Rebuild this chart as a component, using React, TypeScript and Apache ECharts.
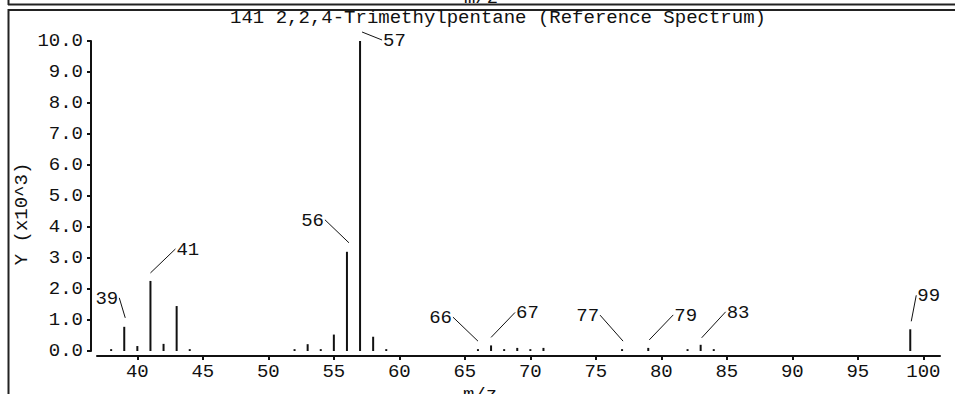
import React, { useEffect, useRef } from "react";
import * as echarts from "echarts";

const title = "141 2,2,4-Trimethylpentane (Reference Spectrum)";
const xName = "m/z";
const yName = "Y (x10^3)";

const mzValues = [38, 39, 40, 41, 42, 43, 44, 52, 53, 54, 55, 56, 57, 58, 59, 66, 67, 68, 69, 70, 71, 77, 79, 82, 83, 84, 99];
const intensities = [0.06, 0.78, 0.16, 2.26, 0.23, 1.45, 0.06, 0.06, 0.22, 0.06, 0.53, 3.2, 10.0, 0.46, 0.06, 0.06, 0.18, 0.06, 0.1, 0.06, 0.1, 0.06, 0.1, 0.06, 0.2, 0.06, 0.7];
const labeledPeaks = [39, 41, 56, 57, 66, 67, 77, 79, 83, 99];
const xTicks = [40, 45, 50, 55, 60, 65, 70, 75, 80, 85, 90, 95, 100];

const FONT = "Liberation Mono";
const FS = 19;
const INK = "#111";

// leader styling: start offset above peak, then displacement to label
const leaderStyle: Record<number, { sx: number; sy: number; dx: number; dy: number }> = {
  39: { sx: 1, sy: -9, dx: -6, dy: -20 },
  41: { sx: 0, sy: -8, dx: 25, dy: -24 },
  56: { sx: 2, sy: -9, dx: -24, dy: -23 },
  57: { sx: 2, sy: -9, dx: 20, dy: 8 },
  66: { sx: 0, sy: -8, dx: -25, dy: -24 },
  67: { sx: 0, sy: -8, dx: 24, dy: -25 },
  77: { sx: 1, sy: -8, dx: -23, dy: -26 },
  79: { sx: 1, sy: -8, dx: 24, dy: -25 },
  83: { sx: 1, sy: -7, dx: 24, dy: -26 },
  99: { sx: 1, sy: -8, dx: 5, dy: -26 },
};

export default function App() {
  const ref = useRef<HTMLDivElement>(null);
  useEffect(() => {
    if (!ref.current) return;
    const chart = echarts.init(ref.current, null, { renderer: "svg" });
    const barData = mzValues.map((m, i) => [m, intensities[i]]);
    const annData = labeledPeaks.map((m) => [m, intensities[mzValues.indexOf(m)]]);
    chart.setOption({
      animation: false,
      backgroundColor: "#fff",
      textStyle: { fontFamily: FONT },
      grid: { left: 97, right: 15, top: 41, bottom: 43, containLabel: false },
      xAxis: {
        type: "value",
        min: 36.92,
        max: 101.27,
        offset: 5,
        axisLine: { show: true, onZero: false, lineStyle: { color: INK, width: 2 } },
        axisTick: { show: true, length: 4, lineStyle: { color: INK, width: 2 }, customValues: xTicks },
        axisLabel: { color: INK, fontFamily: FONT, fontSize: FS, margin: 6, customValues: xTicks },
        splitLine: { show: false },
      },
      yAxis: {
        type: "value",
        min: 0,
        max: 10,
        interval: 1,
        offset: 6,
        axisLine: { show: true, onZero: false, lineStyle: { color: INK, width: 2 } },
        axisTick: { show: true, length: 4, lineStyle: { color: INK, width: 2 } },
        axisLabel: {
          color: INK,
          fontFamily: FONT,
          fontSize: FS,
          margin: 8,
          formatter: (v: number) => v.toFixed(1),
        },
        splitLine: { show: false },
      },
      series: [
        {
          type: "bar",
          data: barData,
          barWidth: 2,
          itemStyle: { color: INK },
          silent: true,
        },
        {
          type: "custom",
          data: annData,
          clip: false,
          silent: true,
          renderItem: (params: any, api: any) => {
            const mz = api.value(0);
            const v = api.value(1);
            const [px, py] = api.coord([mz, v]);
            const s = leaderStyle[mz];
            const x1 = px + s.sx;
            const y1 = py + s.sy;
            const x2 = x1 + s.dx;
            const y2 = y1 + s.dy;
            const right = s.dx >= 0;
            return {
              type: "group",
              children: [
                {
                  type: "line",
                  shape: { x1, y1, x2, y2 },
                  style: { stroke: INK, lineWidth: 1 },
                },
                {
                  type: "text",
                  x: x2 + (right ? 1 : -1),
                  y: y2 + 1,
                  style: {
                    text: String(mz),
                    fill: INK,
                    font: `${FS}px "${FONT}"`,
                    align: right ? "left" : "right",
                    verticalAlign: "middle",
                  },
                },
              ],
            };
          },
        },
      ],
      graphic: [
        { type: "line", shape: { x1: 8.5, y1: 0, x2: 8.5, y2: 5 }, style: { stroke: "#222", lineWidth: 2 } },
        { type: "line", shape: { x1: 8, y1: 4.5, x2: 955, y2: 4.5 }, style: { stroke: "#222", lineWidth: 2 } },
        { type: "line", shape: { x1: 8, y1: 10, x2: 955, y2: 10 }, style: { stroke: "#222", lineWidth: 2 } },
        { type: "line", shape: { x1: 8.5, y1: 9, x2: 8.5, y2: 394 }, style: { stroke: "#222", lineWidth: 2 } },
        {
          type: "text",
          x: 481,
          y: 7,
          style: { text: xName, fill: INK, font: `${FS}px "${FONT}"`, align: "center", verticalAlign: "bottom" },
        },
        {
          type: "text",
          x: 498,
          y: 18,
          style: { text: title, fill: INK, font: `${FS}px "${FONT}"`, align: "center", verticalAlign: "middle" },
        },
        {
          type: "text",
          x: 22,
          y: 214,
          rotation: Math.PI / 2,
          style: { text: yName, fill: INK, font: `${FS}px "${FONT}"`, align: "center", verticalAlign: "middle" },
        },
        {
          type: "text",
          x: 480,
          y: 385,
          style: { text: xName, fill: INK, font: `${FS}px "${FONT}"`, align: "center", verticalAlign: "top" },
        },
      ],
    });
    return () => chart.dispose();
  }, []);
  return (
    <div
      ref={ref}
      style={{ position: "absolute", left: 0, top: 0, width: 955, height: 394 }}
    />
  );
}
